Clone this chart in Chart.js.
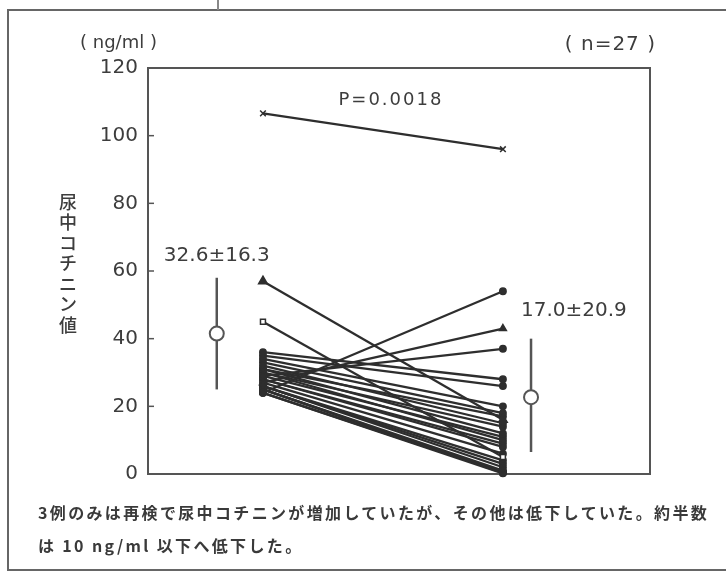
<!DOCTYPE html>
<html>
<head>
<meta charset="utf-8">
<script src="https://cdn.jsdelivr.net/npm/chart.js@4.4.0/dist/chart.umd.min.js"></script>
<style>
html, body { margin: 0; padding: 0; background: #fff; }
#wrap { position: relative; width: 726px; height: 572px; overflow: hidden; background: #fff; }
#frame { position: absolute; left: 7px; top: 9px; width: 740px; height: 558px; border: 2px solid #666; border-right: none; }
#mark { position: absolute; left: 217px; top: 0; width: 2px; height: 10px; background: #888; }
#chart { position: absolute; left: 0; top: 0; }
#caption {
    position: absolute; left: 38px; top: 496px;
    font-family: 'Noto Sans CJK JP', sans-serif; font-size: 16px; font-weight: 700;
    color: #3a3a3a; letter-spacing: 2.35px; line-height: 33px; white-space: nowrap;
}
</style>
</head>
<body>
<div id="wrap">
    <div id="frame"></div>
    <div id="mark"></div>
    <canvas id="chart" width="726" height="572"></canvas>
    <div id="caption">3例のみは再検で尿中コチニンが増加していたが、その他は低下していた。約半数<br>は 10 ng/ml 以下へ低下した。</div>
</div>
<script>
// values (ng/ml), one entry per patient
const BEFORE = [106.6, 57, 45, 24, 27, 29, 36, 35, 34, 33, 32, 31, 31, 30, 30, 29, 28, 28, 27, 26, 26, 26, 25, 25, 25, 24, 24];
const AFTER  = [96, 16, 5, 54, 43, 37, 28, 26, 20, 18, 15, 17, 12, 14, 10, 11, 8, 9, 6, 4, 3, 2, 1, 0.5, 0.3, 0.2, 0.5];

// x positions on a 0..100 scale: mean bar, first test, retest, mean bar
const GROUP_X = [13.7, 22.9, 70.7, 76.3];

// mean circles and bars as drawn
const MEAN_MARK = [41.5, 22.7];
const SD_LOW = [25, 6.5];
const SD_HIGH = [58, 40];
const GROUP_LABELS = ['32.6±16.3', '17.0±20.9'];

const Y_TICKS = [0, 20, 40, 60, 80, 100, 120];
const Y_TITLE = '尿中コチニン値';
const UNIT_LABEL = '( ng/ml )';
const N_LABEL = '( n=27 )';
const P_LABEL = 'P=0.0018';

const INK = '#2e2e2e';
const GREY = '#555';

function markerFor(i) {
    if (i === 0) return { style: 'crossRot', r: 4, fill: INK };
    if (i === 1) return { style: 'triangle', r: 5, fill: INK };
    if (i === 2) return { style: 'rect', r: 3.5, fill: '#fff' };
    if (i === 4) return { style: 'triangle', r: 4, fill: INK };
    return { style: 'circle', r: 3.2, fill: INK };
}

const datasets = [];

// mean circles on top
[0, 1].forEach(g => {
    const x = g === 0 ? GROUP_X[0] : GROUP_X[3];
    datasets.push({
        type: 'scatter',
        data: [{ x: x, y: MEAN_MARK[g] }],
        pointStyle: 'circle',
        pointRadius: 7,
        pointBorderWidth: 2,
        pointBorderColor: GREY,
        pointBackgroundColor: '#fff',
        order: 0,
        clip: false
    });
    datasets.push({
        type: 'line',
        data: [{ x: x, y: SD_LOW[g] }, { x: x, y: SD_HIGH[g] }],
        borderColor: GREY,
        borderWidth: 2.5,
        pointRadius: 0,
        order: 1,
        clip: false
    });
});

BEFORE.forEach((b, i) => {
    const m = markerFor(i);
    datasets.push({
        type: 'line',
        data: [{ x: GROUP_X[1], y: b }, { x: GROUP_X[2], y: AFTER[i] }],
        borderColor: INK,
        borderWidth: 2.3,
        pointStyle: m.style,
        pointRadius: m.r,
        pointBorderWidth: 1.5,
        pointBorderColor: INK,
        pointBackgroundColor: m.fill,
        order: 2,
        clip: false
    });
});

const decorations = {
    id: 'decorations',
    beforeDatasetsDraw(chart) {
        const { ctx, chartArea: a, scales: { y } } = chart;
        ctx.save();
        ctx.strokeStyle = GREY;
        ctx.lineWidth = 2;
        ctx.strokeRect(a.left, a.top, a.right - a.left, a.bottom - a.top);
        ctx.lineWidth = 1.5;
        Y_TICKS.slice(1, -1).forEach(v => {
            const py = y.getPixelForValue(v);
            ctx.beginPath();
            ctx.moveTo(a.left, py);
            ctx.lineTo(a.left + 6, py);
            ctx.stroke();
        });
        ctx.restore();
    },
    afterDraw(chart) {
        const { ctx, chartArea: a, scales: { x, y } } = chart;
        ctx.save();
        ctx.fillStyle = '#3d3d3d';
        ctx.textBaseline = 'middle';

        ctx.font = '18px "DejaVu Sans"';
        ctx.textAlign = 'left';
        ctx.fillText(UNIT_LABEL, 80, 43);
        ctx.textAlign = 'right';
        ctx.font = '20px "DejaVu Sans"';
        ctx.letterSpacing = '1px';
        ctx.fillText(N_LABEL, a.right + 6, 45);
        ctx.letterSpacing = '0px';

        ctx.font = '20px "DejaVu Sans"';
        ctx.textAlign = 'center';
        ctx.fillText(GROUP_LABELS[0], x.getPixelForValue(GROUP_X[0]), y.getPixelForValue(SD_HIGH[0]) - 22);
        ctx.textAlign = 'left';
        ctx.fillText(GROUP_LABELS[1], x.getPixelForValue(GROUP_X[3]) - 10, y.getPixelForValue(SD_HIGH[1]) - 28);

        ctx.font = '18px "DejaVu Sans"';
        ctx.textAlign = 'center';
        ctx.letterSpacing = '2px';
        const mid = (x.getPixelForValue(GROUP_X[1]) + x.getPixelForValue(GROUP_X[2])) / 2;
        ctx.fillText(P_LABEL, mid + 8, 100);
        ctx.letterSpacing = '0px';

        ctx.font = '500 18px "Noto Sans CJK JP"';
        ctx.textAlign = 'center';
        Array.from(Y_TITLE).forEach((ch, i) => {
            ctx.fillText(ch, 68, 202 + i * 20.5);
        });
        ctx.restore();
    }
};

new Chart(document.getElementById('chart'), {
    data: { datasets: datasets },
    options: {
        responsive: false,
        animation: false,
        devicePixelRatio: 1,
        layout: { padding: { left: 0, top: 68, right: 76, bottom: 98 } },
        plugins: { legend: { display: false }, tooltip: { enabled: false } },
        scales: {
            x: { type: 'linear', min: 0, max: 100, display: false },
            y: {
                type: 'linear', min: 0, max: 120,
                afterBuildTicks: s => { s.ticks = Y_TICKS.map(v => ({ value: v })); },
                afterFit: s => { s.width = 148; },
                grid: { display: false, drawTicks: false },
                border: { display: false },
                ticks: { color: '#3d3d3d', padding: 10, font: { family: 'DejaVu Sans', size: 20 } }
            }
        }
    },
    plugins: [decorations]
});
</script>
</body>
</html>
